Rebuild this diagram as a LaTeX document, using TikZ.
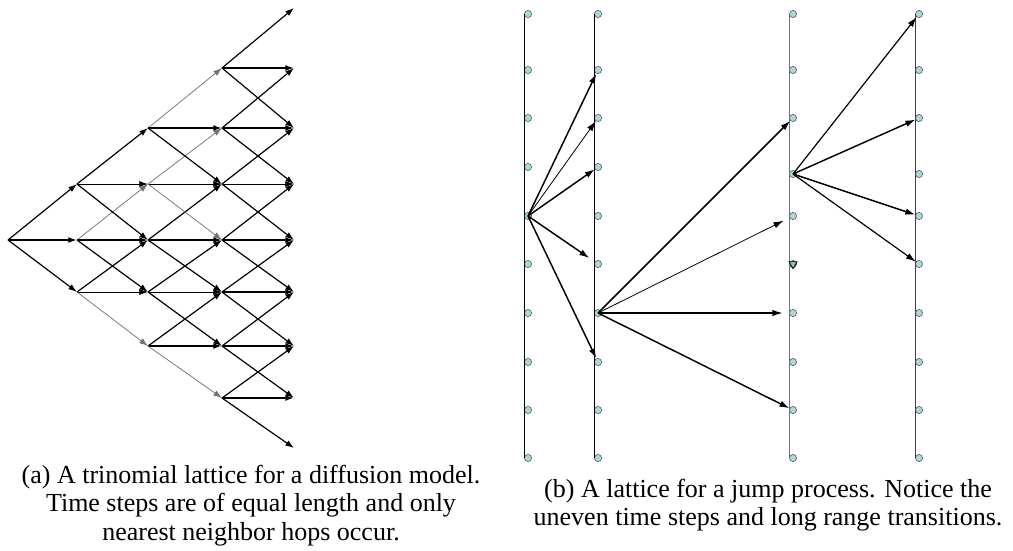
\documentclass[tikz,border=0pt]{standalone}
\usepackage{fontspec}
\setmainfont{Liberation Serif}
\usetikzlibrary{arrows.meta,positioning,shapes.geometric}
\definecolor{dotfill}{RGB}{172,216,220}
\tikzset{
  hop/.style={-{Latex[length=6.5pt,width=4.5pt]}, line width=0.9pt},
  flat/.style={line width=1.4pt},
  thinhop/.style={line width=0.6pt},
  faint/.style={line width=0.55pt, black!55},
  e11h/.style=thinhop, e1-1h/.style=thinhop, e21h/.style=thinhop,
  e2-1h/.style=thinhop, e31h/.style=thinhop,
  e10u/.style=faint, e1-1d/.style=faint, e22u/.style=faint,
  e21u/.style=faint, e21d/.style=faint, e2-2d/.style=faint,
  rail/.style={line width=0.8pt},
  rail3/.style={black!55},
  rail4/.style={black!75},
  dot/.style={circle, draw=black!65, fill=dotfill, line width=0.45pt, minimum size=5.4pt, inner sep=0pt},
  jump/.style={-{Latex[length=7.5pt,width=4.8pt]}, line width=1.1pt},
  lite/.style={line width=0.6pt},
  vmark/.style={regular polygon, regular polygon sides=3, shape border rotate=180, draw=black, fill=dotfill!70!gray, line width=0.6pt, minimum size=7pt, inner sep=0pt},
  captext/.style={font=\fontsize{19.5}{21.3}\selectfont, align=center, inner sep=0pt}
}
\begin{document}
\begin{tikzpicture}[x=0.75pt, y=-0.75pt]
\useasboundingbox (0,0) rectangle (1013,550);

% (a) trinomial lattice
\coordinate (t00) at (8,240);
\foreach \i/\x in {1/77,2/148,3/222,4/294}{
  \foreach \j in {-4,...,4}{
    \ifnum\j>\i\else\ifnum-\j>\i\else
      \pgfmathsetmacro\yy{{8,68,128,184,240,292,346,398,448}[4-\j]}
      \coordinate (t\i\j) at (\x,\yy);
    \fi\fi
  }
}
\foreach \i in {0,...,3}{
  \foreach \j in {-3,...,3}{
    \ifnum\j>\i\else\ifnum-\j>\i\else
      \pgfmathtruncatemacro\ni{\i+1}
      \pgfmathtruncatemacro\ju{\j+1}
      \pgfmathtruncatemacro\jd{\j-1}
      \draw[hop, e\i\j u/.try] (t\i\j) -- (t\ni\ju);
      \draw[hop, flat, e\i\j h/.try] (t\i\j) -- (t\ni\j);
      \draw[hop, e\i\j d/.try] (t\i\j) -- (t\ni\jd);
    \fi\fi
  }
}

% (b) jump lattice
\foreach \c/\x in {1/528,2/598,3/793,4/919}{
  \foreach \r/\y in {0/14,1/70,2/118,3/167,4/216,5/264,6/313,7/362,8/410,9/458}{
    \pgfmathsetmacro\yy{(\c>2 && \r==3) ? 174 : \y}
    \node[dot] (p\c\r) at (\x,\yy) {};
  }
  \draw[rail, rail\c/.try] (p\c0.west) -- (p\c9.west);
}
\node[vmark] (kink) at (p35) {};

\draw[jump] (p14.center) -- (p21);
\draw[jump, lite] (p14.center) -- (p22);
\draw[jump] (p14.center) -- (p23);
\draw[jump, shorten >=5pt] (p14.center) -- (p25);
\draw[jump] (p14.center) -- (p27);

\draw[jump] (p26.center) -- (p32);
\draw[jump, lite, shorten >=5pt] (p26.center) -- (p34);
\draw[jump, line width=0.9pt, shorten >=5pt] (p26.center) -- (p36);
\draw[jump] (p26.center) -- (p38);

\draw[jump, line width=0.9pt] (p33.center) -- (p40);
\draw[jump] (p33.center) -- (p42);
\draw[jump] (p33.center) -- (p44);
\draw[jump, line width=0.9pt] (p33.center) -- (p45);

% captions
\node[captext, anchor=north] (capa) at (251,465) {(a) A trinomial lattice for a diffusion model.\\Time steps are of equal length and only\\nearest neighbor hops occur.};
\node[captext, anchor=north] (capb) at (768,479) {(b) A lattice for a jump process. Notice the\\uneven time steps and long range transitions.};
\end{tikzpicture}
\end{document}
